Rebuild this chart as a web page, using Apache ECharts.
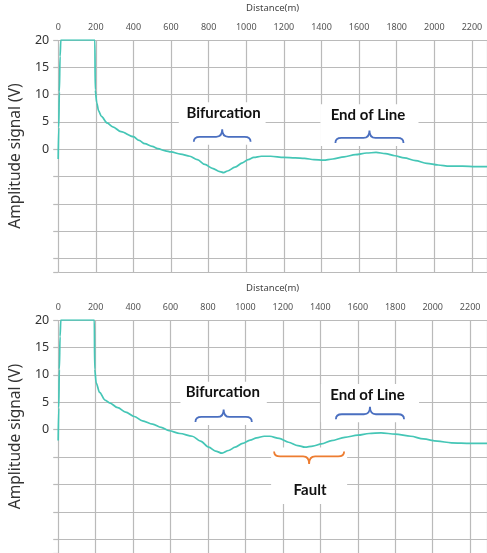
<!DOCTYPE html>
<html>
<head>
<meta charset="utf-8">
<script src="https://cdn.jsdelivr.net/npm/echarts@6/dist/echarts.min.js"></script>
<style>
html,body{margin:0;padding:0;background:#fff;}
#c{width:487px;height:553px;}
</style>
</head>
<body>
<div id="c"></div>
<script>
// ---------- data ----------
const xTickStep = 200;                // Distance(m) tick step
const yLabelValues = [0, 5, 10, 15, 20];

// Top chart (no fault)
const distTop = [0,3,6,10,14,195,197,205,215,230,260,290,334,400,430,460,500,530,570,600,650,700,740,780,820,860,880,900,940,980,1010,1040,1080,1130,1200,1260,1310,1360,1410,1460,1520,1580,1640,1690,1740,1790,1840,1900,1960,2020,2080,2150,2220,2280];
const signalTop = [-1.8,4,10.5,17,20,20,10.8,8.5,7.0,6.0,4.8,4.1,3.2,2.3,1.6,1.0,0.5,0.1,-0.3,-0.5,-0.9,-1.3,-1.9,-2.8,-3.5,-4.1,-4.3,-4.0,-3.3,-2.5,-1.9,-1.5,-1.3,-1.3,-1.5,-1.6,-1.7,-1.9,-2.0,-1.8,-1.4,-1.0,-0.7,-0.6,-0.8,-1.2,-1.6,-2.1,-2.6,-2.9,-3.1,-3.1,-3.2,-3.2];

// Bottom chart (with fault)
const distBottom = [0,3,6,10,14,193,195,203,221,250,274,318,360,406,450,504,550,592,650,716,760,804,840,875,910,945,985,1025,1060,1100,1130,1180,1230,1280,1318,1360,1406,1460,1530,1600,1660,1724,1800,1883,1950,2025,2100,2202,2290];
const signalBottom = [-2,4,11,17,20,20,11,8.5,6.8,5.4,4.9,4.0,3.2,2.4,1.6,1.0,0.4,-0.2,-0.7,-1.2,-2.1,-3.2,-3.9,-4.3,-3.8,-3.2,-2.5,-1.9,-1.5,-1.2,-1.2,-1.6,-2.3,-2.9,-3.2,-3.0,-2.6,-2.0,-1.4,-1.0,-0.7,-0.6,-0.8,-1.2,-1.7,-2.1,-2.4,-2.5,-2.5];

// Annotations: label, brace start/end (m), brace end level (V), text x (m), text y (V), direction (1 = tip up, -1 = tip down), colour
const noteLabelsTop = ['Bifurcation', 'End of Line'];
const noteStartTop = [721, 1474];
const noteEndTop = [1023, 1836];
const noteBaseTop = [1.34, 1.15];
const noteTextXTop = [879, 1647];
const noteTextYTop = [6.6, 6.2];
const noteDirTop = [1, 1];
const noteColorTop = ['#4a6fc0', '#4a6fc0'];

const noteLabelsBottom = ['Bifurcation', 'End of Line', 'Fault'];
const noteStartBottom = [733, 1483, 1153];
const noteEndBottom = [1034, 1847, 1527];
const noteBaseBottom = [1.4, 1.9, -3.97];
const noteTextXBottom = [879, 1652, 1345];
const noteTextYBottom = [6.75, 6.3, -11.0];
const noteDirBottom = [1, 1, -1];
const noteColorBottom = ['#4a6fc0', '#4a6fc0', '#ed7d31'];

// ---------- build ----------
function pairs(xs, ys){ return xs.map((x,i)=>[x, ys[i]]); }
function notes(starts, ends, bases, tx, ty, dirs){
  return starts.map((s,i)=>[s, ends[i], bases[i], tx[i], ty[i], dirs[i]]);
}

function makeRender(labels, colors){
  return function(params, api){
    const i = params.dataIndex;
    const s = api.value(0), e = api.value(1), b = api.value(2);
    const tx = api.value(3), ty = api.value(4), dir = api.value(5);
    const p1 = api.coord([s, b]);
    const p2 = api.coord([e, b]);
    const pc = api.coord([(s+e)/2, b]);
    const pt = api.coord([tx, ty]);
    const yEnd = p1[1];
    const yMid = yEnd - dir*5;
    const yTip = yEnd - dir*12.5;
    const r = 6;
    const x1 = p1[0], x2 = p2[0], xc = pc[0];
    const d = 'M' + x1 + ' ' + yEnd +
      ' Q' + x1 + ' ' + yMid + ' ' + (x1+r) + ' ' + yMid +
      ' L' + (xc-r) + ' ' + yMid +
      ' Q' + xc + ' ' + yMid + ' ' + xc + ' ' + yTip +
      ' Q' + xc + ' ' + yMid + ' ' + (xc+r) + ' ' + yMid +
      ' L' + (x2-r) + ' ' + yMid +
      ' Q' + x2 + ' ' + yMid + ' ' + x2 + ' ' + yEnd;
    let rect;
    if (dir > 0) {
      rect = {x: x1-15, y: pt[1]-11, width: (x2-x1)+30, height: (yEnd+3) - (pt[1]-11)};
    } else {
      rect = {x: x1-3, y: yEnd-4, width: (x2-x1)+6, height: (pt[1]+14) - (yEnd-4)};
    }
    return {
      type: 'group',
      children: [
        {type:'rect', shape: rect, style:{fill:'#ffffff'}},
        {type:'path', shape:{pathData: d}, style:{fill:null, stroke: colors[i], lineWidth: 1.8}},
        {type:'text', style:{text: labels[i], x: pt[0], y: pt[1], align:'center', verticalAlign:'middle',
          fontFamily:'Lato', fontWeight:'bold', fontSize:15, fill:'#111111'}}
      ]
    };
  };
}

const gridColor = '#bababa';
function xAxisCfg(gi, max){
  return {
    type:'value', gridIndex: gi, position:'top', min:0, max:max, interval: xTickStep,
    name:'Distance(m)', nameLocation:'middle', nameGap:27,
    nameTextStyle:{fontFamily:'Noto Sans', fontSize:9.5, color:'#444'},
    axisLine:{show:false},
    axisTick:{show:true, length:3, lineStyle:{color:gridColor}},
    axisLabel:{fontFamily:'Noto Sans', fontSize:9, color:'#555', margin:8, showMaxLabel:false,
      formatter: v => (v % xTickStep === 0 ? String(v) : '')},
    splitLine:{show:true, lineStyle:{color:gridColor, width:1.2}}
  };
}
function yAxisCfg(gi){
  return {
    type:'value', gridIndex: gi, min:-22.5, max:20, splitNumber:9, minInterval:5, maxInterval:5,
    name:'Amplitude signal (V)', nameLocation:'middle', nameGap:29,
    nameTextStyle:{fontFamily:'Noto Sans', fontSize:15.5, color:'#333'},
    axisLine:{show:false},
    axisTick:{show:true, length:5, lineStyle:{color:gridColor, width:1.2}},
    axisLabel:{fontFamily:'Noto Sans', fontSize:12.5, color:'#333', margin:9,
      formatter: v => (yLabelValues.indexOf(v) >= 0 ? String(v) : '')},
    splitLine:{show:true, lineStyle:{color:gridColor, width:1.2}}
  };
}

const chart = echarts.init(document.getElementById('c'), null, {renderer:'canvas'});
chart.setOption({
  animation:false,
  backgroundColor:'#ffffff',
  grid:[
    {left:57, top:40, width:430.4, height:232},
    {left:55, top:320, width:432.3, height:235.5}
  ],
  xAxis:[xAxisCfg(0, 2280), xAxisCfg(1, 2290)],
  yAxis:[yAxisCfg(0), yAxisCfg(1)],
  series:[
    {type:'custom', xAxisIndex:0, yAxisIndex:0, z:2, clip:false,
      renderItem: makeRender(noteLabelsTop, noteColorTop),
      data: notes(noteStartTop, noteEndTop, noteBaseTop, noteTextXTop, noteTextYTop, noteDirTop)},
    {type:'custom', xAxisIndex:1, yAxisIndex:1, z:2, clip:false,
      renderItem: makeRender(noteLabelsBottom, noteColorBottom),
      data: notes(noteStartBottom, noteEndBottom, noteBaseBottom, noteTextXBottom, noteTextYBottom, noteDirBottom)},
    {type:'line', xAxisIndex:0, yAxisIndex:0, z:3, showSymbol:false, smooth:0.3, smoothMonotone:'x',
      lineStyle:{color:'#45c6b6', width:1.7}, data: pairs(distTop, signalTop)},
    {type:'line', xAxisIndex:1, yAxisIndex:1, z:3, showSymbol:false, smooth:0.3, smoothMonotone:'x',
      lineStyle:{color:'#45c6b6', width:1.7}, data: pairs(distBottom, signalBottom)}
  ]
});
</script>
</body>
</html>
